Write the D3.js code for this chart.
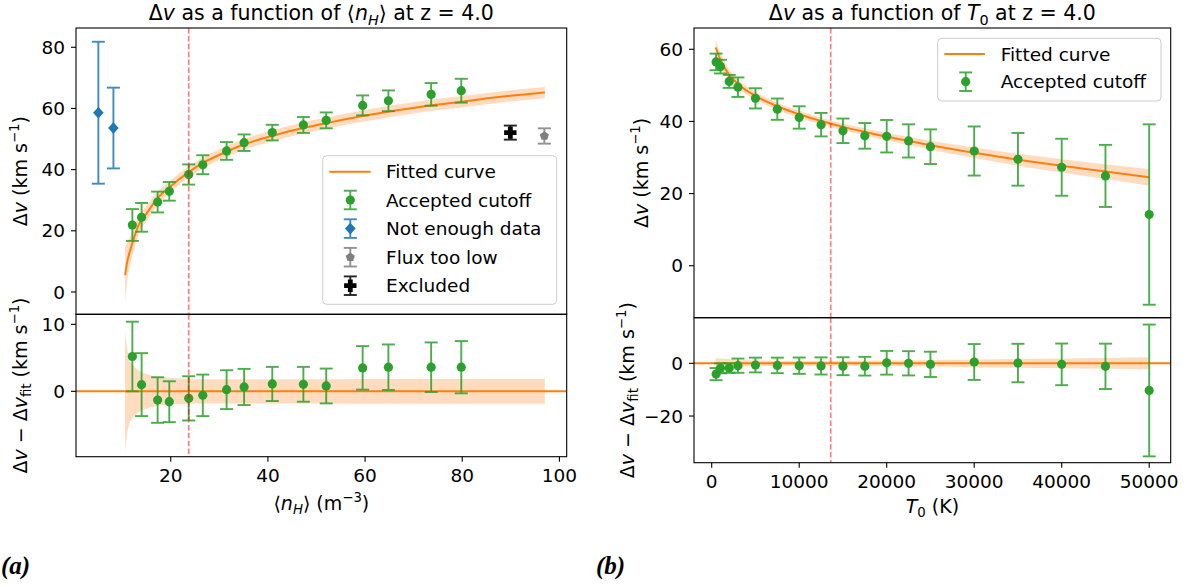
<!DOCTYPE html>
<html><head><meta charset="utf-8">
<script src="https://cdn.jsdelivr.net/npm/d3@7"></script>
<style>body{margin:0;background:#fff} svg{display:block;font-family:"DejaVu Sans",sans-serif}</style>
</head><body>
<svg id="c" width="1195" height="587"></svg>
<script>
// ---------------- DATA (panel a) ----------------
const nAcc = [12.1, 14.0, 17.3, 19.7, 23.7, 26.6, 31.5, 35.1, 40.9, 47.3, 52.0, 59.5, 64.8, 73.6, 79.8];
const vAcc = [21.9, 24.4, 29.4, 32.9, 38.4, 41.6, 46.1, 48.8, 52.1, 54.6, 56.1, 61.0, 62.5, 64.6, 65.8];
const eAcc = [5.2, 4.7, 3.4, 3.05, 3.3, 3.1, 2.9, 2.7, 2.55, 2.6, 2.6, 3.25, 3.4, 3.7, 3.9];
const rAcc = [5.2, 1.0, -1.3, -1.55, -1.05, -0.6, 0.25, 0.65, 1.1, 1.05, 0.8, 3.5, 3.6, 3.6, 3.6];
const nLow = [5.1, 8.2], vLow = [58.6, 53.6], eLow = [23.2, 13.2];
const nFlux = [96.9], vFlux = [51.0], eFlux = [2.5];
const nExcl = [89.9], vExcl = [52.1], eExcl = [2.3];
const fitN = [10.6, 11.0, 11.6, 12.5, 13.6, 15.0, 17.0, 20.0, 23.7, 27, 31.5, 35, 41, 47, 52, 59.5, 65, 73.5, 80, 88, 97];
const fitNV = [5.5, 9.5, 13.3, 18.0, 22.6, 25.6, 30.1, 34.6, 39.2, 42.5, 45.9, 48.2, 51.1, 53.5, 55.2, 57.5, 59.0, 61.0, 62.2, 63.8, 65.2];
const fitNBand = [9.0, 6.5, 4.6, 3.7, 3.0, 2.6, 2.2, 2.0, 1.85, 1.8, 1.8, 1.8, 1.8, 1.8, 1.8, 1.85, 1.85, 1.85, 1.85, 1.85, 1.85];
const nCut = 23.7;
// ---------------- DATA (panel b) ----------------
const tAcc = [500, 1000, 2000, 3000, 5000, 7500, 10000, 12500, 15000, 17500, 20000, 22500, 25000, 30000, 35000, 40000, 45000, 50000];
const tV   = [56.5, 55.2, 51.1, 49.5, 46.4, 43.4, 41.1, 39.1, 37.4, 36.0, 35.9, 34.6, 33.0, 31.8, 29.5, 27.3, 24.9, 14.2];
const tErr = [2.3, 1.9, 1.8, 2.7, 2.8, 2.95, 3.1, 3.25, 3.4, 3.55, 4.5, 4.6, 4.8, 6.8, 7.3, 7.9, 8.6, 25.0];
const tRes = [-4.1, -1.9, -1.8, -0.9, -0.65, -0.8, -0.9, -1.0, -1.1, -1.1, 0.2, 0.0, -0.4, 0.5, 0.1, -0.4, -1.15, -10.3];
const fitT = [457, 1000, 2000, 3000, 5000, 7500, 10000, 12500, 15000, 17500, 20000, 22500, 25000, 30000, 35000, 40000, 45000, 50000];
const fitTV = [60.5, 57.1, 52.9, 50.4, 47.1, 44.2, 42.0, 40.1, 38.5, 37.1, 35.75, 34.6, 33.4, 31.3, 29.4, 27.7, 26.1, 24.5];
const fitTBand = [2.0, 1.8, 1.5, 1.3, 1.1, 1.0, 0.95, 0.95, 0.95, 1.0, 1.05, 1.15, 1.25, 1.45, 1.65, 1.85, 2.05, 2.3];
const tCut = 13600;
// ---------------- TICKS ----------------
const ticksAx = [20, 40, 60, 80, 100];
const ticksAyTop = [0, 20, 40, 60, 80];
const ticksAyBot = [0, 10];
const ticksBx = [0, 10000, 20000, 30000, 40000, 50000];
const ticksByTop = [0, 20, 40, 60];
const ticksByBot = [-20, 0];

const C = {orange:'#ff7f0e', green:'#2ca02c', blue:'#1f77b4', grey:'#7f7f7f', black:'#000', band:'#ffdcc0'};
const svg = d3.select('#c');
const TS = 18.5; // tick font size
const fmt = v => (v < 0 ? '\u2212' + Math.abs(v) : String(v));

function rich(g, parts, size, attrs) {
  const t = g.append('text').style('font-size', size + 'px');
  for (const k in attrs) t.attr(k, attrs[k]);
  let off = 0;
  parts.forEach(p => {
    const target = p.sup ? -0.42 * size : p.sub ? 0.22 * size : 0;
    const s = t.append('tspan').attr('dy', target - off).text(p.t);
    off = target;
    if (p.i) s.style('font-style', 'italic');
    if (p.sup || p.sub) s.style('font-size', (0.7 * size) + 'px');
  });
  return t;
}

let clipId = 0;
function makeAxes(x0, x1, y0, y1) {
  const id = 'clip' + (clipId++);
  svg.append('clipPath').attr('id', id).append('rect').attr('x', x0).attr('y', y0).attr('width', x1 - x0).attr('height', y1 - y0);
  return svg.append('g').attr('clip-path', `url(#${id})`);
}
function frame(x0, x1, y0, y1) {
  svg.append('rect').attr('x', x0).attr('y', y0).attr('width', x1 - x0).attr('height', y1 - y0)
    .attr('fill', 'none').attr('stroke', '#000').attr('stroke-width', 1.1);
}
function yTicks(y, ticks, xLeft) {
  const g = svg.append('g');
  ticks.forEach(v => {
    g.append('line').attr('x1', xLeft - 5).attr('x2', xLeft).attr('y1', y(v)).attr('y2', y(v)).attr('stroke', '#000').attr('stroke-width', 1.1);
    g.append('text').attr('x', xLeft - 11).attr('y', y(v)).attr('dy', '0.36em').attr('text-anchor', 'end')
      .style('font-size', TS + 'px').text(fmt(v));
  });
}
function xTicks(x, ticks, yBot) {
  const g = svg.append('g');
  ticks.forEach(v => {
    g.append('line').attr('x1', x(v)).attr('x2', x(v)).attr('y1', yBot).attr('y2', yBot + 5).attr('stroke', '#000').attr('stroke-width', 1.1);
    g.append('text').attr('x', x(v)).attr('y', yBot + 25.5).attr('text-anchor', 'middle')
      .style('font-size', TS + 'px').text(fmt(v));
  });
}
function errbars(g, xs, ys, es, x, y, color, cap) {
  xs.forEach((xv, i) => {
    const px = x(xv), a = y(ys[i] - es[i]), b = y(ys[i] + es[i]);
    const gg = g.append('g').attr('stroke', color).attr('stroke-width', 1.9).attr('opacity', 0.85);
    gg.append('line').attr('x1', px).attr('x2', px).attr('y1', a).attr('y2', b);
    gg.append('line').attr('x1', px - cap).attr('x2', px + cap).attr('y1', a).attr('y2', a);
    gg.append('line').attr('x1', px - cap).attr('x2', px + cap).attr('y1', b).attr('y2', b);
  });
}
const diamond = s => `M0,${-s}L${s*0.92},0L0,${s}L${-s*0.92},0Z`;
const pentagon = r => { let p = []; for (let k = 0; k < 5; k++) { const a = -Math.PI/2 + k*2*Math.PI/5; p.push([r*Math.cos(a), r*Math.sin(a)]); } return 'M' + p.map(q => q.join(',')).join('L') + 'Z'; };
const plusP = (s, w) => `M${-w},${-s}L${w},${-s}L${w},${-w}L${s},${-w}L${s},${w}L${w},${w}L${w},${s}L${-w},${s}L${-w},${w}L${-s},${w}L${-s},${-w}L${-w},${-w}Z`;
function markers(g, xs, ys, x, y, type, color) {
  xs.forEach((xv, i) => {
    const px = x(xv), py = y(ys[i]);
    if (type === 'circle') g.append('circle').attr('cx', px).attr('cy', py).attr('r', 4.6).attr('fill', color);
    else {
      const d = type === 'diamond' ? diamond(5.8) : type === 'pentagon' ? pentagon(4.8) : plusP(6.2, 2.4);
      g.append('path').attr('d', d).attr('transform', `translate(${px},${py})`).attr('fill', color);
    }
  });
}
function vdash(g, xv, x, y0, y1) {
  g.append('line').attr('x1', x(xv)).attr('x2', x(xv)).attr('y1', y0).attr('y2', y1)
    .attr('stroke', '#ff0000').attr('stroke-opacity', 0.5).attr('stroke-width', 1.7).attr('stroke-dasharray', '5.5,2.4');
}

// ================= PANEL A =================
{
  const L = 76, R = 566.7, T = 28, M = 314.3, B = 456.7;
  const x = d3.scaleLinear().domain([0.5, 101.5]).range([L, R]);
  const yT = d3.scaleLinear().domain([-7.3, 86.3]).range([M, T]);
  const yB = d3.scaleLinear().domain([-9.76, 11.5]).range([B, M]);
  const idx = d3.range(fitN.length);
  const gT = makeAxes(L, R, T, M);
  gT.append('path').attr('fill', C.band)
    .attr('d', d3.area().curve(d3.curveMonotoneX).x(i => x(fitN[i])).y0(i => yT(fitNV[i] - fitNBand[i])).y1(i => yT(fitNV[i] + fitNBand[i]))(idx));
  gT.append('path').attr('fill', 'none').attr('stroke', C.orange).attr('stroke-width', 2)
    .attr('d', d3.line().curve(d3.curveMonotoneX).x(i => x(fitN[i])).y(i => yT(fitNV[i]))(idx));
  errbars(gT, nAcc, vAcc, eAcc, x, yT, C.green, 6.5);
  markers(gT, nAcc, vAcc, x, yT, 'circle', C.green);
  errbars(gT, nLow, vLow, eLow, x, yT, C.blue, 6.5);
  markers(gT, nLow, vLow, x, yT, 'diamond', C.blue);
  errbars(gT, nFlux, vFlux, eFlux, x, yT, C.grey, 6.5);
  markers(gT, nFlux, vFlux, x, yT, 'pentagon', C.grey);
  errbars(gT, nExcl, vExcl, eExcl, x, yT, C.black, 6.5);
  markers(gT, nExcl, vExcl, x, yT, 'plus', C.black);
  vdash(gT, nCut, x, T, M);
  const gB = makeAxes(L, R, M, B);
  gB.append('path').attr('fill', C.band)
    .attr('d', d3.area().curve(d3.curveMonotoneX).x(i => x(fitN[i])).y0(i => yB(-fitNBand[i])).y1(i => yB(fitNBand[i]))(idx));
  gB.append('line').attr('x1', L).attr('x2', R).attr('y1', yB(0)).attr('y2', yB(0)).attr('stroke', C.orange).attr('stroke-width', 2);
  errbars(gB, nAcc, rAcc, eAcc, x, yB, C.green, 6.5);
  markers(gB, nAcc, rAcc, x, yB, 'circle', C.green);
  vdash(gB, nCut, x, M, B);
  frame(L, R, T, M); frame(L, R, M, B);
  yTicks(yT, ticksAyTop, L); yTicks(yB, ticksAyBot, L); xTicks(x, ticksAx, B);
  const lg = svg.append('g');
  lg.append('rect').attr('x', 322.7).attr('y', 155.7).attr('width', 234).attr('height', 148.6).attr('rx', 4)
    .attr('fill', '#fff').attr('fill-opacity', 0.8).attr('stroke', '#cccccc').attr('stroke-width', 1);
  const rows = [171.7, 200, 228.6, 257.2, 285.7];
  const labels = ['Fitted curve', 'Accepted cutoff', 'Not enough data', 'Flux too low', 'Excluded'];
  lg.append('line').attr('x1', 329.3).attr('x2', 370.7).attr('y1', rows[0]).attr('y2', rows[0]).attr('stroke', C.orange).attr('stroke-width', 2);
  const mx = d3.scaleLinear().domain([0, 1]).range([350.3, 351.3]);
  const legItems = [[C.green, 'circle'], [C.blue, 'diamond'], [C.grey, 'pentagon'], [C.black, 'plus']];
  legItems.forEach((it, k) => {
    const yy = d3.scaleLinear().domain([0, 1]).range([rows[k + 1], rows[k + 1] - 3.1]);
    errbars(lg, [0], [0], [3], mx, yy, it[0], 6.5);
    markers(lg, [0], [0], mx, yy, it[1], it[0]);
  });
  labels.forEach((s, k) => lg.append('text').attr('x', 386).attr('y', rows[k]).attr('dy', '0.36em').style('font-size', '18.5px').text(s));
  rich(svg, [{t:'\u0394'}, {t:'v', i:1}, {t:' as a function of \u27E8'}, {t:'n', i:1}, {t:'H', i:1, sub:1}, {t:'\u27E9 at z = 4.0'}], 20.5,
    {x: (L + R) / 2, y: 20, 'text-anchor': 'middle'});
  rich(svg.append('g').attr('transform', `translate(27,${(T + M) / 2}) rotate(-90)`),
    [{t:'\u0394'}, {t:'v', i:1}, {t:' (km s'}, {t:'\u22121', sup:1}, {t:')'}], 19, {x: 0, y: 0, 'text-anchor': 'middle'});
  rich(svg.append('g').attr('transform', `translate(27,${(M + B) / 2}) rotate(-90)`),
    [{t:'\u0394'}, {t:'v', i:1}, {t:' \u2212 \u0394'}, {t:'v', i:1}, {t:'fit', sub:1}, {t:' (km s'}, {t:'\u22121', sup:1}, {t:')'}], 19, {x: 0, y: 0, 'text-anchor': 'middle'});
  rich(svg, [{t:'\u27E8'}, {t:'n', i:1}, {t:'H', i:1, sub:1}, {t:'\u27E9 (m'}, {t:'\u22123', sup:1}, {t:')'}], 19,
    {x: (L + R) / 2, y: 510, 'text-anchor': 'middle'});
}

// ================= PANEL B =================
{
  const L = 694, R = 1170.7, T = 28, M = 317.7, B = 462.7;
  const x = d3.scaleLinear().domain([-2023, 52457]).range([L, R]);
  const yT = d3.scaleLinear().domain([-14.4, 65.9]).range([M, T]);
  const yB = d3.scaleLinear().domain([-37.7, 17.3]).range([B, M]);
  const idx = d3.range(fitT.length);
  const gT = makeAxes(L, R, T, M);
  gT.append('path').attr('fill', C.band)
    .attr('d', d3.area().curve(d3.curveMonotoneX).x(i => x(fitT[i])).y0(i => yT(fitTV[i] - fitTBand[i])).y1(i => yT(fitTV[i] + fitTBand[i]))(idx));
  gT.append('path').attr('fill', 'none').attr('stroke', C.orange).attr('stroke-width', 2)
    .attr('d', d3.line().curve(d3.curveMonotoneX).x(i => x(fitT[i])).y(i => yT(fitTV[i]))(idx));
  errbars(gT, tAcc, tV, tErr, x, yT, C.green, 6.5);
  markers(gT, tAcc, tV, x, yT, 'circle', C.green);
  vdash(gT, tCut, x, T, M);
  const gB = makeAxes(L, R, M, B);
  gB.append('path').attr('fill', C.band)
    .attr('d', d3.area().curve(d3.curveMonotoneX).x(i => x(fitT[i])).y0(i => yB(-fitTBand[i])).y1(i => yB(fitTBand[i]))(idx));
  gB.append('line').attr('x1', L).attr('x2', R).attr('y1', yB(0)).attr('y2', yB(0)).attr('stroke', C.orange).attr('stroke-width', 2);
  errbars(gB, tAcc, tRes, tErr, x, yB, C.green, 6.5);
  markers(gB, tAcc, tRes, x, yB, 'circle', C.green);
  vdash(gB, tCut, x, M, B);
  frame(L, R, T, M); frame(L, R, M, B);
  yTicks(yT, ticksByTop, L); yTicks(yB, ticksByBot, L); xTicks(x, ticksBx, B);
  const lg = svg.append('g');
  lg.append('rect').attr('x', 937.7).attr('y', 38.3).attr('width', 223.3).attr('height', 62.7).attr('rx', 4)
    .attr('fill', '#fff').attr('fill-opacity', 0.8).attr('stroke', '#cccccc').attr('stroke-width', 1);
  lg.append('line').attr('x1', 944.3).attr('x2', 985).attr('y1', 54).attr('y2', 54).attr('stroke', C.orange).attr('stroke-width', 2);
  const mx = d3.scaleLinear().domain([0, 1]).range([965.7, 966.7]);
  const yy = d3.scaleLinear().domain([0, 1]).range([81.7, 78.6]);
  errbars(lg, [0], [0], [3], mx, yy, C.green, 6.5);
  markers(lg, [0], [0], mx, yy, 'circle', C.green);
  lg.append('text').attr('x', 1000.7).attr('y', 54).attr('dy', '0.36em').style('font-size', '18.5px').text('Fitted curve');
  lg.append('text').attr('x', 1000.7).attr('y', 81.7).attr('dy', '0.36em').style('font-size', '18.5px').text('Accepted cutoff');
  rich(svg, [{t:'\u0394'}, {t:'v', i:1}, {t:' as a function of '}, {t:'T', i:1}, {t:'0', sub:1}, {t:' at z = 4.0'}], 20.5,
    {x: (L + R) / 2, y: 20, 'text-anchor': 'middle'});
  rich(svg.append('g').attr('transform', `translate(648,${(T + M) / 2}) rotate(-90)`),
    [{t:'\u0394'}, {t:'v', i:1}, {t:' (km s'}, {t:'\u22121', sup:1}, {t:')'}], 19, {x: 0, y: 0, 'text-anchor': 'middle'});
  rich(svg.append('g').attr('transform', `translate(634,${(M + B) / 2}) rotate(-90)`),
    [{t:'\u0394'}, {t:'v', i:1}, {t:' \u2212 \u0394'}, {t:'v', i:1}, {t:'fit', sub:1}, {t:' (km s'}, {t:'\u22121', sup:1}, {t:')'}], 19, {x: 0, y: 0, 'text-anchor': 'middle'});
  rich(svg, [{t:'T', i:1}, {t:'0', sub:1}, {t:' (K)'}], 19, {x: (L + R) / 2, y: 513, 'text-anchor': 'middle'});
}
// panel letters
svg.append('text').attr('x', 1).attr('y', 574).style('font-family', '"Liberation Serif",serif').style('font-weight', 'bold').style('font-style', 'italic').style('font-size', '25px').text('(a)');
svg.append('text').attr('x', 596).attr('y', 574).style('font-family', '"Liberation Serif",serif').style('font-weight', 'bold').style('font-style', 'italic').style('font-size', '25px').text('(b)');
</script>
</body></html>
